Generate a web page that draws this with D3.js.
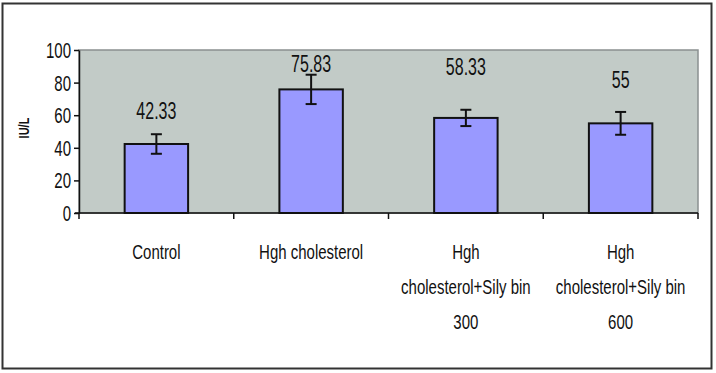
<!DOCTYPE html>
<html><head><meta charset="utf-8">
<script src="https://cdn.jsdelivr.net/npm/d3@7"></script>
<style>body{margin:0;background:#fff}svg{display:block}text{font-family:Arial,"Liberation Sans",sans-serif}</style>
</head><body>
<svg id="c" width="716" height="373"></svg>
<script>
const categories = ["Control", "Hgh cholesterol", "Hgh cholesterol+Sily bin 300", "Hgh cholesterol+Sily bin 600"];
const categoryLines = [["Control"], ["Hgh cholesterol"], ["Hgh", "cholesterol+Sily bin", "300"], ["Hgh", "cholesterol+Sily bin", "600"]];
const values = [42.33, 75.83, 58.33, 55];
const errors = [6, 9, 5, 7];
const valueLabels = ["42.33", "75.83", "58.33", "55"];
const labelLevels = [57.7, 86.3, 84.7, 76.5];
const yTicks = [0, 20, 40, 60, 80, 100];
const yTitle = "IU/L";

const svg = d3.select("#c");
const L = 79, R = 698, T = 50, B = 213;
svg.append("rect").attr("x",2.5).attr("y",3.5).attr("width",709).attr("height",365)
  .attr("fill","#fff").attr("stroke","#333").attr("stroke-width",2);

const x = d3.scaleBand().domain(categories).range([L,R]).paddingInner(0.59).paddingOuter(0.295);
const y = d3.scaleLinear().domain([0,100]).range([B,T]);

svg.append("rect").attr("x",L).attr("y",T).attr("width",R-L).attr("height",B-T)
  .attr("fill","#c2cbc7").attr("stroke","#8a9090").attr("stroke-width",1.5);

// bars
svg.selectAll("rect.bar").data(values).join("rect").attr("class","bar")
  .attr("x",(d,i)=>x(categories[i])).attr("width",x.bandwidth())
  .attr("y",d=>y(d)).attr("height",d=>y(0)-y(d))
  .attr("fill","#9999ff").attr("stroke","#111").attr("stroke-width",2);

// error bars
const eg = svg.append("g").attr("stroke","#111").attr("stroke-width",2);
values.forEach((v,i)=>{
  const cx = x(categories[i]) + x.bandwidth()/2;
  eg.append("line").attr("x1",cx).attr("x2",cx).attr("y1",y(v+errors[i])).attr("y2",y(v-errors[i]));
  [v+errors[i], v-errors[i]].forEach(e=>{
    eg.append("line").attr("x1",cx-5.5).attr("x2",cx+5.5).attr("y1",y(e)).attr("y2",y(e));
  });
});

// value labels
valueLabels.forEach((t,i)=>{
  const cx = x(categories[i]) + x.bandwidth()/2;
  svg.append("text").attr("transform",`translate(${cx},${y(labelLevels[i])}) scale(1,1.5)`)
    .attr("text-anchor","middle").attr("font-size",16).attr("fill","#111").text(t);
});

// y axis
const ya = svg.append("g").attr("transform",`translate(${L},0)`)
  .call(d3.axisLeft(y).tickValues(yTicks).tickSize(5).tickSizeOuter(0).tickPadding(3));
ya.select(".domain").attr("stroke","#111").attr("stroke-width",1.5);
ya.selectAll(".tick line").attr("stroke","#111").attr("stroke-width",1.5);
ya.selectAll(".tick text").attr("font-size",15).attr("fill","#111").attr("dy",null)
  .attr("transform","scale(1,1.45)").attr("y",0).attr("dominant-baseline","central");

// x axis
svg.append("line").attr("x1",L-4).attr("x2",R).attr("y1",B).attr("y2",B).attr("stroke","#111").attr("stroke-width",1.5);
const bounds = categories.map(c=>x(c)-x.step()*x.paddingInner()/2).concat([R]);
svg.selectAll("line.xt").data(bounds).join("line").attr("class","xt")
  .attr("x1",d=>d).attr("x2",d=>d).attr("y1",B).attr("y2",B+6).attr("stroke","#111").attr("stroke-width",1.5);

categoryLines.forEach((lines,i)=>{
  const cx = x(categories[i]) + x.bandwidth()/2;
  lines.forEach((ln,j)=>{
    svg.append("text").attr("transform",`translate(${cx},${259+j*35}) scale(1,1.4)`)
      .attr("text-anchor","middle").attr("font-size",15).attr("fill","#111").text(ln);
  });
});

svg.append("text").attr("transform","translate(29,128) rotate(-90) scale(1,1.3)")
  .attr("text-anchor","middle").attr("font-size",11).attr("font-weight","bold").attr("fill","#111").text(yTitle);
</script>
</body></html>
